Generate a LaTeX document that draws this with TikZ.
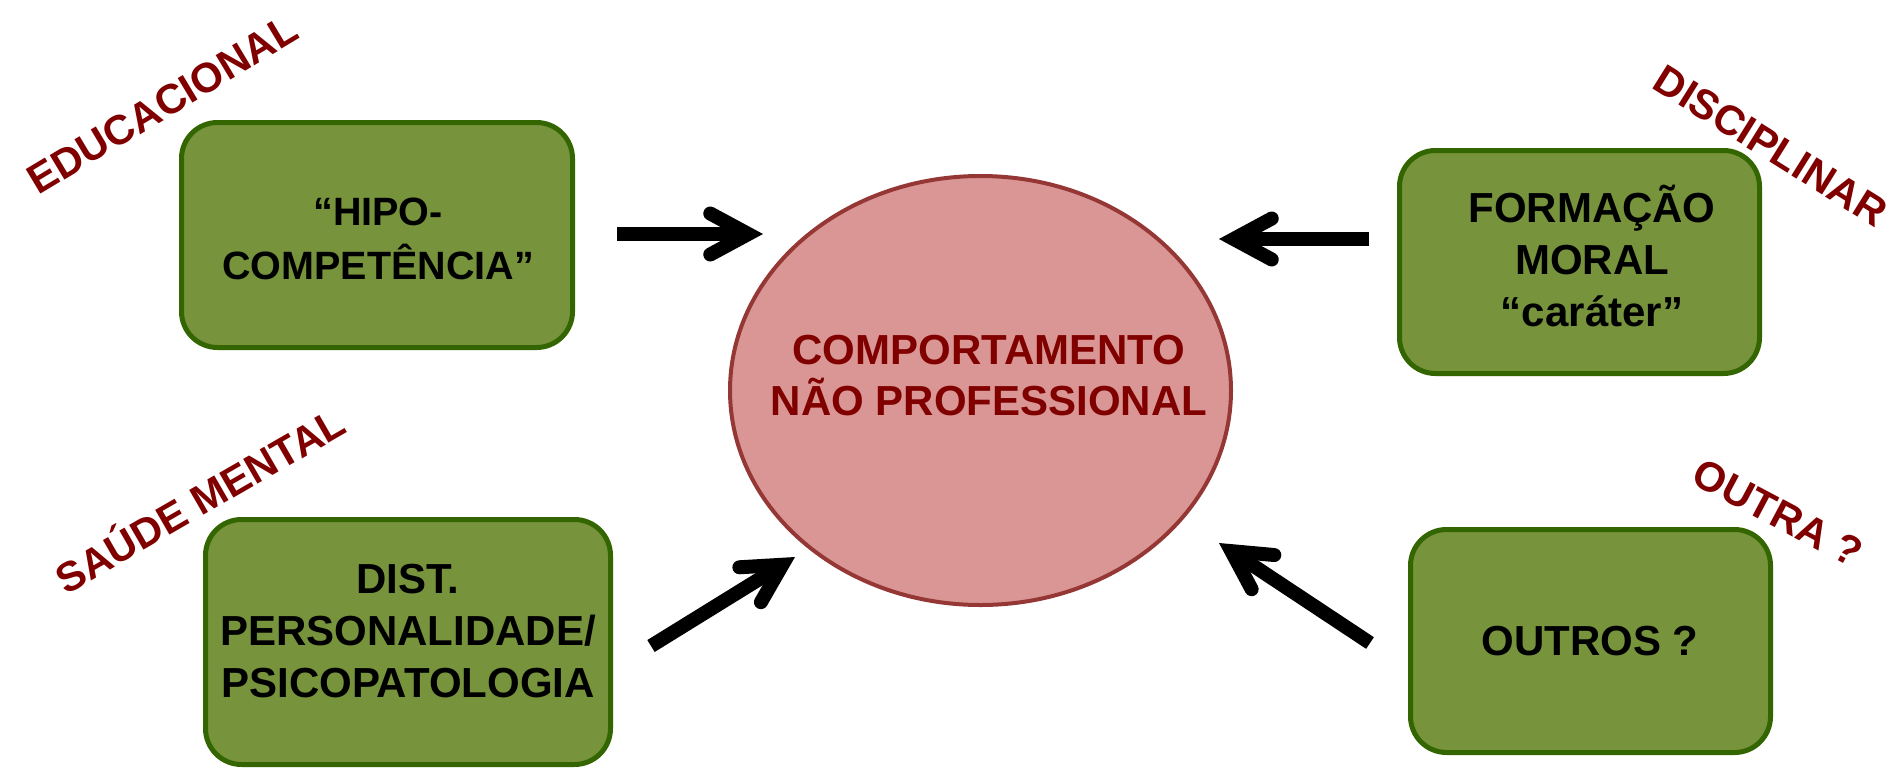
\documentclass[tikz,border=0pt]{standalone}
\usepackage{fontspec}
\setmainfont{Liberation Sans}
\usetikzlibrary{arrows.meta,shapes.geometric}
\definecolor{verdecaja}{HTML}{77933C}
\definecolor{bordecaja}{HTML}{336600}
\definecolor{rosaelip}{HTML}{D99694}
\definecolor{bordeelip}{HTML}{953735}
\definecolor{rojotexto}{HTML}{800000}

\begin{document}
\begin{tikzpicture}[x=1pt,y=-1pt]
\useasboundingbox (0,0) rectangle (1903,768);
% estilos de linea y relleno
\tikzstyle{caja} = [draw=bordecaja, fill=verdecaja, line width=5pt, rounded corners=36pt, inner sep=0pt]
\tikzstyle{txtcaja} = [align=center, inner sep=0pt, font=\fontsize{42}{52}\selectfont\bfseries]
\tikzstyle{elip} = [ellipse, draw=bordeelip, fill=rosaelip, line width=4pt, inner sep=0pt]
\tikzstyle{txtelip} = [align=center, inner sep=0pt, text=rojotexto, font=\fontsize{42}{51}\selectfont\bfseries]
\tikzstyle{flecha} = [line width=14pt, -{Straight Barb[length=38pt,width=41pt,line cap=round]}]
\tikzstyle{etiq} = [text=rojotexto, inner sep=0pt, font=\fontsize{41.5}{48}\selectfont\bfseries]
% definicion etiqueta girada
% #1: nombre del nodo
% #2: ubicacion del centro
% #3: angulo de rotacion
% #4: texto de la etiqueta
\newcommand{\etiqueta}[4]{
\node [etiq, rotate=#3] (#1) at #2 {#4};
}
% dibujar cajas
\node[caja, minimum width=391pt, minimum height=225pt] (hipo) at (377.000000,235.000000) {};
\node[caja, minimum width=360pt, minimum height=223pt] (moral) at (1579.500000,262.000000) {};
\node[caja, minimum width=405pt, minimum height=245pt] (dist) at (408.000000,642.000000) {};
\node[caja, minimum width=360pt, minimum height=223pt] (outros) at (1590.500000,641.000000) {};
% textos de las cajas
\node[txtcaja, font=\fontsize{39.5}{54}\selectfont\bfseries] (hipotxt) at (378.000000,239.000000) {“HIPO-\\COMPETÊNCIA”};
\node[txtcaja] (moraltxt) at (1592.000000,256.000000) {FORMAÇÃO\\MORAL\\“caráter”};
\node[txtcaja] (disttxt) at (408.000000,631.000000) {DIST.\\PERSONALIDADE/\\PSICOPATOLOGIA};
\node[txtcaja] (outrostxt) at (1590.000000,641.000000) {OUTROS ?};
% dibujar elipse central
\node[elip, minimum width=501pt, minimum height=429pt] (comp) at (980.500000,390.500000) {};
\node[txtelip] (comptxt) at (989.000000,375.500000) {COMPORTAMENTO\\NÃO PROFESSIONAL};
% dibujar etiquetas
\etiqueta{educ}{(162.600000,104.400000)}{31}{EDUCACIONAL}
\etiqueta{disc}{(1770.600000,145.600000)}{-32}{DISCIPLINAR}
\etiqueta{saude}{(198.400000,497.600000)}{30}{SAÚDE MENTAL}
\etiqueta{outra}{(1778.000000,512.700000)}{-28}{OUTRA ?}
% dibujar flechas
\coordinate (f1a) at (617.000000,234.000000);
\coordinate (f1b) at (763.000000,234.000000);
\coordinate (f2a) at (1369.000000,239.000000);
\coordinate (f2b) at (1219.000000,239.000000);
\coordinate (f3a) at (651.000000,646.000000);
\coordinate (f3b) at (795.000000,557.000000);
\coordinate (f4a) at (1370.000000,643.000000);
\coordinate (f4b) at (1219.000000,543.000000);
\draw[flecha] (f1a) -- (f1b);
\draw[flecha] (f2a) -- (f2b);
\draw[flecha] (f3a) -- (f3b);
\draw[flecha] (f4a) -- (f4b);
\end{tikzpicture}
\end{document}
